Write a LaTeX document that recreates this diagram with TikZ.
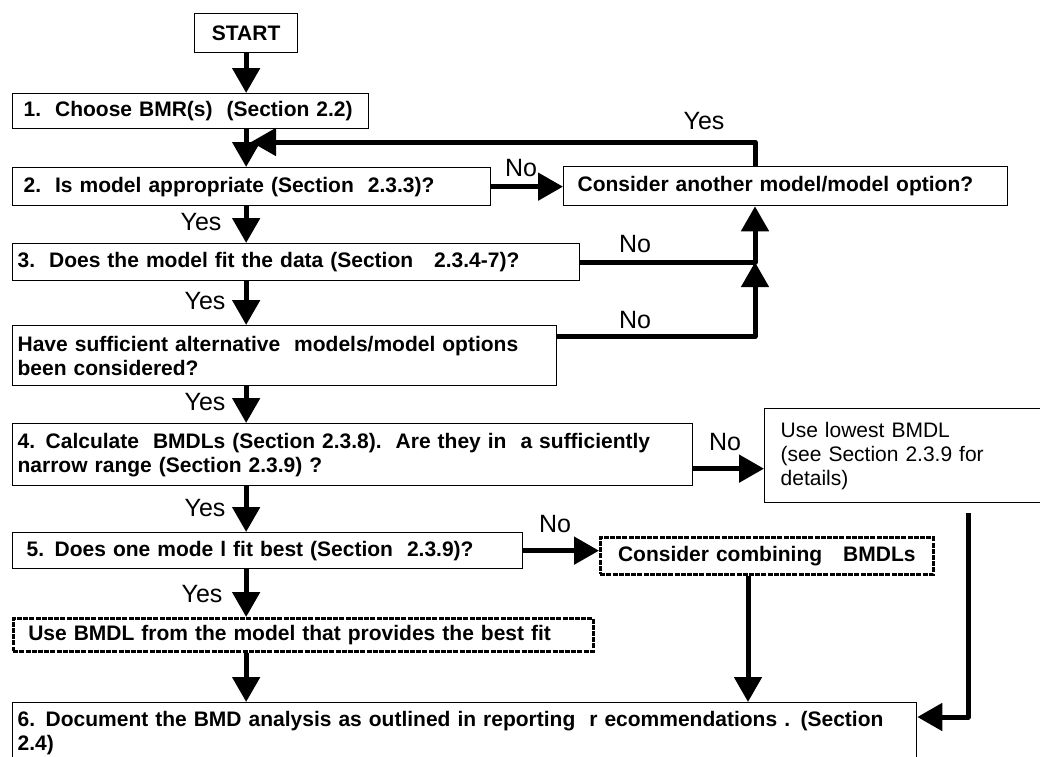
\documentclass[tikz,border=0pt]{standalone}
\usepackage{fontspec}
\setmainfont{Liberation Sans}
\usetikzlibrary{arrows.meta}
\tikzset{
  box/.style={draw, line width=1.3pt, anchor=north west, align=left,
    font=\bfseries\fontsize{21}{24}\selectfont, inner ysep=0pt},
  dbox/.style={box, line width=2.5pt, dash pattern=on 5pt off 1.2pt},
  arr/.style={line width=5pt, -{Triangle[length=25pt,width=27pt]}, line join=round},
  lbl/.style={font=\fontsize{25}{28}\selectfont, inner sep=0pt},
}
\begin{document}
\begin{tikzpicture}[x=1pt,y=-1pt]
\useasboundingbox (0,0) rectangle (1040,756);

% boxes
\node[box, align=center, minimum width=103pt, minimum height=39pt, inner xsep=0pt] (start) at (194,13) {START};
\node[box, text width=334pt, inner xsep=11pt, minimum height=35pt] (b1) at (12,93) {\mbox{1.\ \ Choose\ BMR(s)\ \ (Section 2.2)}};
\node[box, text width=456pt, inner xsep=11pt, minimum height=38pt] (b2) at (12,167) {2.\ \ Is model appropriate (Section\ \ 2.3.3)?};
\node[box, text width=416pt, inner xsep=14pt, minimum height=39pt] (cons) at (563,166) {Consider another model/model option?};
\node[box, text width=557pt, inner xsep=5pt, minimum height=37pt] (b3) at (12,243) {3.\ \ Does the model fit the data (Section\ \ \ 2.3.4-7)?};
\node[box, text width=534pt, inner xsep=5pt, minimum height=60pt] (b4) at (12,325) {Have sufficient alternative\ \ models/model options\\been considered?};
\node[box, text width=670pt, inner xsep=5pt, minimum height=62pt] (b5) at (12,423) {4. Calculate\ \ BMDLs (Section 2.3.8).\ \ Are they in\ \ a sufficiently\\narrow range (Section 2.3.9) ?};
\node[box, text width=258pt, inner xsep=16pt, minimum height=94pt, font=\fontsize{21}{24}\selectfont] (low) at (764,408) {Use lowest BMDL\\(see Section 2.3.9 for\\details)};
\node[box, text width=482pt, inner xsep=14pt, minimum height=36pt] (b6) at (12,532) {5. Does one mode l fit best (Section\ \ 2.3.9)?};
\node[dbox, text width=323pt, inner xsep=5pt, minimum height=37pt, align=center] (comb) at (599,536) {Consider combining\ \ \ BMDLs};
\node[dbox, text width=550pt, inner xsep=15pt, minimum height=33pt] (ubm) at (12,617) {Use BMDL from the model that provides the best fit};
\node[box, text width=894pt, inner xsep=5pt, minimum height=60pt] (final) at (12,702) {6. Document the BMD analysis as outlined in reporting\ \ r ecommendations . (Section\\2.4)};

% helper coordinates
\coordinate (col) at (start.south);
\coordinate (lx) at (755,0);
\coordinate (rx) at (968,0);
\coordinate (cx) at (748,0);
\coordinate (loopend) at (251,142);
\coordinate (b4o) at ([yshift=19pt]b4.east);
\coordinate (b5o) at ([yshift=-14pt]b5.east);
\coordinate (fin) at ([yshift=-15pt]final.north east);

% main column
\draw[arr] (start.south) -- (start.south |- b1.north);
\draw[arr] (b1.south -| col) -- (b2.north -| col);
\draw[arr] (b2.south -| col) -- (b3.north -| col);
\draw[arr] (b3.south -| col) -- (b4.north -| col);
\draw[arr] (b4.south -| col) -- (b5.north -| col);
\draw[arr] (b5.south -| col) -- (b6.north -| col);
\draw[arr] (b6.south -| col) -- (ubm.north -| col);
\draw[arr] (ubm.south -| col) -- (final.north -| col);

% side branches
\draw[arr] (cons.north -| lx) |- (loopend);
\draw[arr] (b2.east) -- (b2.east -| cons.west);
\draw[arr] (b3.east) -| (cons.south -| lx);
\draw[arr] (b4o) -| (b3.east -| lx);
\draw[arr] (b5o) -- (b5o -| low.west);
\draw[arr, shorten <=10pt] (low.south -| rx) |- (fin);
\draw[arr] (b6.east) -- (b6.east -| comb.west);
\draw[arr] (comb.south -| cx) -- (final.north -| cx);

% labels
\node[lbl] (yes0) at (704,121) {Yes};
\node[lbl] (yes1) at (201,222) {Yes};
\node[lbl] (yes2) at (205,301) {Yes};
\node[lbl] (yes3) at (205,402) {Yes};
\node[lbl] (yes4) at (205,508) {Yes};
\node[lbl] (yes5) at (202,594) {Yes};
\node[lbl] (no1) at (521,168) {No};
\node[lbl] (no2) at (635,244) {No};
\node[lbl] (no3) at (635,320) {No};
\node[lbl] (no4) at (725,442) {No};
\node[lbl] (no5) at (555,524) {No};
\end{tikzpicture}
\end{document}
